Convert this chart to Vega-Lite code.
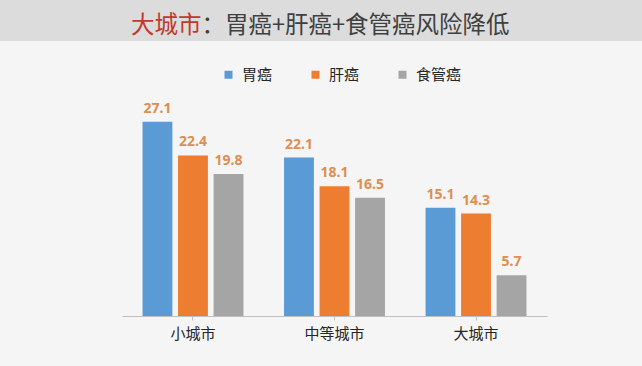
{
  "$schema": "https://vega.github.io/schema/vega-lite/v6.json",
  "background": "#f5f5f5",
  "padding": {"left": 0, "top": 0, "right": 0, "bottom": 26},
  "config": {
    "view": {"stroke": null},
    "font": "Noto Sans CJK SC",
    "concat": {"spacing": 0}
  },
  "title": {
    "text": "：胃癌+肝癌+食管癌风险降低",
    "anchor": "start",
    "frame": "group",
    "orient": "top",
    "offset": -37,
    "dx": 201.5,
    "font": "Noto Sans CJK SC",
    "fontSize": 23.5,
    "fontWeight": "normal",
    "color": "#404040"
  },
  "spacing": 60,
  "vconcat": [
    {
      "width": 642,
      "height": 41,
      "view": {"fill": "#dcdcdc", "stroke": null},
      "title": {
        "text": "大城市",
        "anchor": "start",
        "frame": "group",
        "orient": "top",
        "offset": -37,
        "dx": 131,
        "font": "Noto Sans CJK SC",
        "fontSize": 23.5,
        "fontWeight": "normal",
        "color": "#c0392b"
      },
      "data": {"values": []},
      "mark": {"type": "rect"},
      "encoding": {}
    },
    {
      "spacing": 0,
      "hconcat": [
        {
          "width": 122,
          "height": 10,
          "view": {"stroke": null},
          "data": {"values": []},
          "mark": {"type": "rect"},
          "encoding": {}
        },
        {
          "width": 425,
          "height": 215,
          "data": {
            "values": [
              {"city": "小城市", "type": "胃癌", "value": 27.1},
              {"city": "小城市", "type": "肝癌", "value": 22.4},
              {"city": "小城市", "type": "食管癌", "value": 19.8},
              {"city": "中等城市", "type": "胃癌", "value": 22.1},
              {"city": "中等城市", "type": "肝癌", "value": 18.1},
              {"city": "中等城市", "type": "食管癌", "value": 16.5},
              {"city": "大城市", "type": "胃癌", "value": 15.1},
              {"city": "大城市", "type": "肝癌", "value": 14.3},
              {"city": "大城市", "type": "食管癌", "value": 5.7}
            ]
          },
          "encoding": {
            "x": {
              "field": "city",
              "type": "nominal",
              "sort": ["小城市", "中等城市", "大城市"],
              "scale": {"paddingInner": 0.287, "paddingOuter": 0.145},
              "axis": {
                "title": null,
                "labelAngle": 0,
                "labelFontSize": 15,
                "labelColor": "#262626",
                "labelPadding": 6,
                "tickSize": 4,
                "tickColor": "#bfbfbf",
                "domainColor": "#bfbfbf",
                "grid": false
              }
            },
            "xOffset": {
              "field": "type",
              "sort": ["胃癌", "肝癌", "食管癌"],
              "scale": {"paddingInner": 0.16, "paddingOuter": 0}
            },
            "y": {
              "field": "value",
              "type": "quantitative",
              "scale": {"domain": [0, 30]},
              "axis": null
            }
          },
          "layer": [
            {
              "mark": {"type": "bar"},
              "encoding": {
                "color": {
                  "field": "type",
                  "type": "nominal",
                  "sort": ["胃癌", "肝癌", "食管癌"],
                  "scale": {"domain": ["胃癌", "肝癌", "食管癌"], "range": ["#5b9bd5", "#ed7d31", "#a5a5a5"]},
                  "legend": {
                    "orient": "none",
                    "legendX": 221,
                    "legendY": 67,
                    "direction": "horizontal",
                    "title": null,
                    "symbolType": "square",
                    "symbolSize": 64,
                    "symbolStrokeWidth": 0,
                    "labelFontSize": 15,
                    "labelColor": "#262626",
                    "labelOffset": 6,
                    "columnPadding": 35,
                    "padding": 0
                  }
                }
              }
            },
            {
              "mark": {"type": "text", "dy": -6, "baseline": "bottom", "fontSize": 14, "fontWeight": "bold", "color": "#dc8f52", "font": "Noto Sans"},
              "encoding": {
                "text": {"field": "value", "type": "quantitative", "format": ".1f"}
              }
            }
          ]
        }
      ]
    }
  ]
}
